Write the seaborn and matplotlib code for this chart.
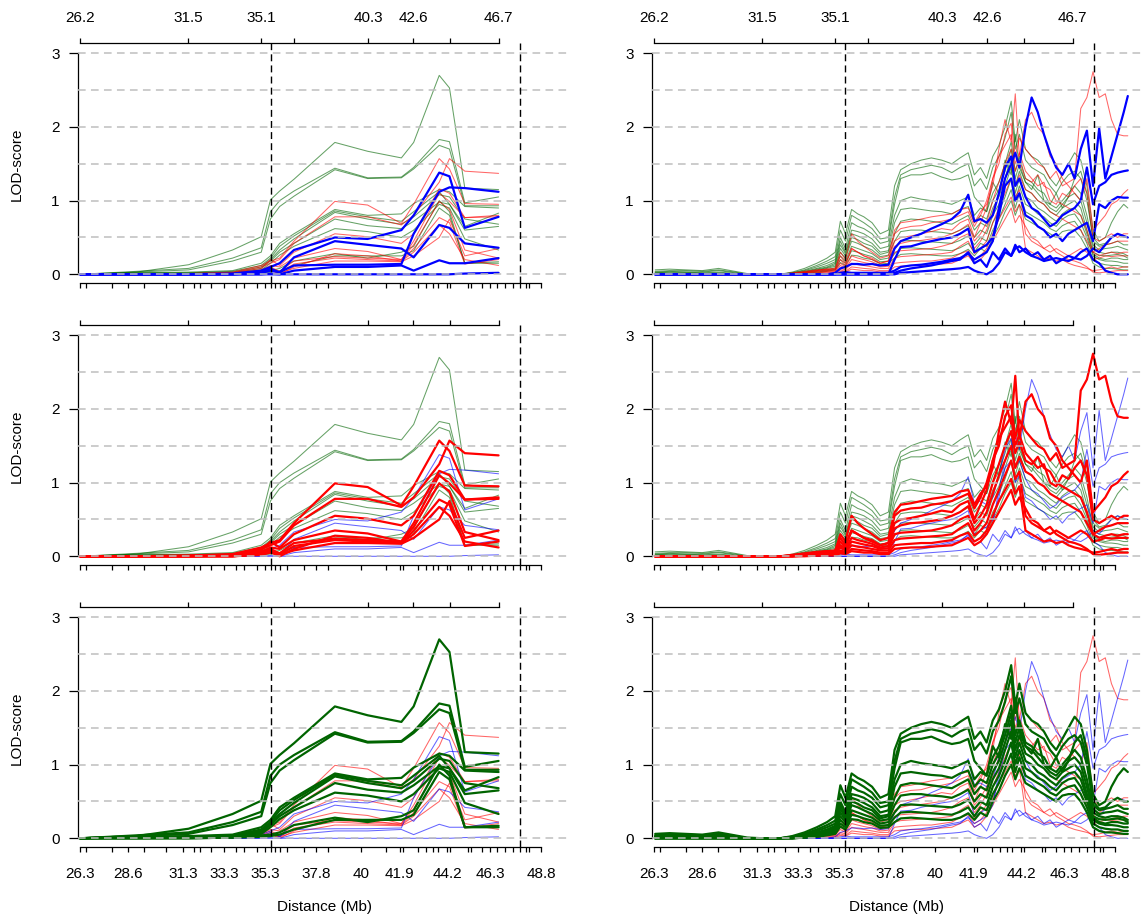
import matplotlib
matplotlib.use("Agg")
import matplotlib.pyplot as plt
import seaborn as sns
import pandas as pd

# ---- low density marker map (left column), positions in Mb ----
low_mb = [26.25, 29.0, 31.55, 33.7, 35.1, 35.55, 36.0, 36.7, 38.7, 40.3,
          41.95, 42.55, 43.8, 44.3, 45.05, 46.7]

low_blue = [
    [0, 0, 0, 0.01, 0.05, 0.10, 0.15, 0.33, 0.50, 0.48, 0.60, 0.80, 1.38, 1.33, 0.63, 0.78],
    [0, 0, 0, 0, 0.02, 0.05, 0.03, 0.12, 0.13, 0.13, 0.14, 0.55, 1.12, 1.18, 1.17, 1.12],
    [0, 0, 0, 0, 0.02, 0.08, 0.02, 0.23, 0.45, 0.40, 0.35, 0.23, 0.67, 0.63, 0.42, 0.36],
    [0, 0, 0, 0, 0, 0.01, 0.0, 0.05, 0.10, 0.10, 0.12, 0.05, 0.19, 0.15, 0.15, 0.22],
    [0, 0, 0, 0, 0, 0, 0, 0, 0, 0, 0, 0, 0, 0, 0.01, 0.02],
]
low_red = [
    [0, 0, 0.01, 0.03, 0.12, 0.18, 0.22, 0.45, 0.99, 0.94, 0.69, 0.95, 1.57, 1.43, 0.96, 0.95],
    [0, 0, 0.01, 0.02, 0.10, 0.15, 0.20, 0.42, 0.78, 0.78, 0.67, 0.80, 1.25, 1.57, 1.40, 1.37],
    [0, 0, 0, 0.02, 0.08, 0.20, 0.12, 0.30, 0.55, 0.51, 0.42, 0.55, 1.16, 1.10, 0.77, 0.80],
    [0, 0, 0, 0.01, 0.06, 0.12, 0.10, 0.22, 0.35, 0.31, 0.20, 0.45, 1.10, 0.99, 0.77, 0.78],
    [0, 0, 0, 0.01, 0.05, 0.10, 0.04, 0.18, 0.24, 0.22, 0.20, 0.40, 0.99, 0.88, 0.33, 0.22],
    [0, 0, 0, 0, 0.04, 0.08, 0.02, 0.14, 0.22, 0.20, 0.18, 0.35, 0.77, 0.70, 0.14, 0.20],
    [0, 0, 0, 0, 0.03, 0.06, 0.0, 0.10, 0.28, 0.25, 0.18, 0.30, 0.67, 0.55, 0.20, 0.12],
    [0, 0, 0, 0, 0.02, 0.05, 0.02, 0.08, 0.18, 0.18, 0.17, 0.25, 0.50, 0.75, 0.25, 0.35],
]
low_green = [
    [0, 0.03, 0.13, 0.33, 0.51, 1.01, 1.13, 1.29, 1.79, 1.67, 1.58, 1.79, 2.70, 2.53, 1.17, 1.15],
    [0, 0.04, 0.08, 0.22, 0.36, 0.85, 1.00, 1.13, 1.44, 1.31, 1.32, 1.45, 1.83, 1.80, 0.97, 1.05],
    [0, 0.03, 0.06, 0.18, 0.30, 0.75, 0.92, 1.06, 1.42, 1.30, 1.31, 1.43, 1.75, 1.70, 0.93, 0.93],
    [0, 0.02, 0.03, 0.05, 0.15, 0.25, 0.42, 0.55, 0.88, 0.80, 0.82, 0.96, 1.15, 1.12, 0.92, 0.90],
    [0, 0.02, 0.02, 0.04, 0.12, 0.22, 0.38, 0.52, 0.86, 0.78, 0.72, 0.85, 1.12, 0.95, 0.65, 0.83],
    [0, 0.01, 0.02, 0.03, 0.10, 0.20, 0.33, 0.48, 0.84, 0.75, 0.68, 0.78, 1.08, 1.05, 0.75, 0.68],
    [0, 0.01, 0.01, 0.02, 0.08, 0.18, 0.30, 0.42, 0.75, 0.66, 0.62, 0.72, 0.98, 0.95, 0.60, 0.65],
    [0, 0.0, 0.01, 0.02, 0.06, 0.15, 0.26, 0.38, 0.62, 0.58, 0.50, 0.60, 0.95, 0.90, 0.48, 0.33],
    [0, 0, 0, 0.01, 0.04, 0.05, 0.08, 0.18, 0.28, 0.22, 0.30, 0.38, 1.00, 0.85, 0.15, 0.17],
    [0, 0, 0, 0.01, 0.02, 0.03, 0.05, 0.12, 0.25, 0.25, 0.25, 0.32, 0.90, 0.80, 0.15, 0.15],
]

# ---- high density marker map (right column) ----
high_mb = [26.3, 27.0, 27.8, 28.6, 29.4, 30.2, 30.8, 31.6, 32.4, 33.0,
           33.6, 34.2, 34.7, 35.1, 35.35, 35.6, 35.9, 36.2, 36.5, 36.9,
           37.3, 37.7, 38.0, 38.3, 38.8, 39.3, 39.8, 40.3, 40.8, 41.2,
           41.6, 41.9, 42.2, 42.5, 42.8, 43.1, 43.4, 43.7, 43.9, 44.1,
           44.4, 44.7, 45.0, 45.3, 45.6, 45.9, 46.2, 46.5, 46.8, 47.1,
           47.4, 47.7, 48.0, 48.3, 48.6, 48.9, 49.2, 49.4]

high_blue = [
    [0.00, 0.00, 0.00, 0.00, 0.00, 0.00, 0.00, 0.00, 0.00, 0.00,
     0.00, 0.00, 0.00, 0.00, 0.02, 0.03, 0.02, 0.02, 0.02, 0.02,
     0.02, 0.02, 0.05, 0.10, 0.12, 0.13, 0.15, 0.17, 0.20, 0.22,
     0.28, 0.20, 0.25, 0.30, 0.45, 0.90, 1.30, 1.50, 1.65, 1.45,
     2.00, 2.40, 2.20, 1.90, 1.65, 1.45, 1.35, 1.50, 1.30, 1.70,
     1.95, 1.20, 1.98, 1.30, 1.60, 1.90, 2.20, 2.42],
    [0.00, 0.00, 0.00, 0.00, 0.00, 0.00, 0.00, 0.00, 0.00, 0.00,
     0.00, 0.00, 0.00, 0.02, 0.08, 0.10, 0.14, 0.14, 0.13, 0.14,
     0.12, 0.13, 0.35, 0.45, 0.50, 0.55, 0.62, 0.68, 0.75, 0.85,
     1.08, 0.72, 0.75, 0.70, 0.80, 1.10, 1.45, 1.60, 1.20, 1.30,
     1.05, 0.90, 0.85, 0.75, 0.65, 0.70, 0.80, 0.85, 0.90, 1.00,
     1.45, 0.95, 1.20, 1.25, 1.35, 1.38, 1.40, 1.41],
    [0.00, 0.00, 0.00, 0.00, 0.00, 0.00, 0.00, 0.00, 0.00, 0.00,
     0.00, 0.00, 0.00, 0.00, 0.00, 0.00, 0.00, 0.00, 0.00, 0.00,
     0.00, 0.00, 0.20, 0.37, 0.38, 0.42, 0.45, 0.48, 0.50, 0.55,
     0.62, 0.30, 0.35, 0.40, 0.50, 0.80, 1.20, 1.30, 1.00, 1.10,
     0.80, 0.75, 0.65, 0.60, 0.50, 0.55, 0.45, 0.55, 0.60, 0.65,
     0.70, 0.45, 0.95, 0.90, 1.00, 1.05, 1.04, 1.04],
    [0.00, 0.00, 0.00, 0.00, 0.00, 0.00, 0.00, 0.00, 0.00, 0.00,
     0.00, 0.00, 0.00, 0.00, 0.00, 0.00, 0.00, 0.00, 0.00, 0.00,
     0.00, 0.00, 0.02, 0.05, 0.08, 0.10, 0.12, 0.15, 0.18, 0.20,
     0.30, 0.15, 0.20, 0.10, 0.30, 0.20, 0.35, 0.25, 0.40, 0.30,
     0.35, 0.25, 0.30, 0.20, 0.25, 0.15, 0.20, 0.18, 0.22, 0.20,
     0.25, 0.35, 0.30, 0.40, 0.50, 0.55, 0.52, 0.50],
    [0.00, 0.00, 0.00, 0.00, 0.00, 0.00, 0.00, 0.00, 0.00, 0.00,
     0.00, 0.00, 0.00, 0.00, 0.00, 0.00, 0.00, 0.00, 0.00, 0.00,
     0.00, 0.00, 0.00, 0.02, 0.03, 0.04, 0.05, 0.06, 0.07, 0.08,
     0.10, 0.05, 0.02, 0.00, 0.05, 0.15, 0.30, 0.25, 0.35, 0.38,
     0.30, 0.25, 0.22, 0.18, 0.20, 0.22, 0.20, 0.25, 0.22, 0.30,
     0.35, 0.20, 0.15, 0.05, 0.02, 0.00, 0.00, 0.00],
]
high_red = [
    [0.00, 0.00, 0.00, 0.00, 0.00, 0.00, 0.00, 0.00, 0.00, 0.01,
     0.03, 0.05, 0.07, 0.08, 0.25, 0.15, 0.35, 0.30, 0.25, 0.22,
     0.15, 0.18, 0.55, 0.62, 0.65, 0.66, 0.70, 0.72, 0.75, 0.80,
     0.85, 0.65, 0.80, 1.00, 1.30, 1.50, 1.90, 2.05, 1.60, 1.85,
     1.70, 1.60, 1.50, 1.45, 1.30, 1.40, 1.20, 1.25, 1.30, 2.25,
     2.40, 2.75, 2.40, 2.45, 2.10, 1.90, 1.88, 1.88],
    [0.00, 0.00, 0.00, 0.00, 0.00, 0.00, 0.00, 0.00, 0.00, 0.02,
     0.04, 0.06, 0.07, 0.07, 0.30, 0.20, 0.55, 0.45, 0.38, 0.30,
     0.22, 0.25, 0.60, 0.70, 0.72, 0.75, 0.78, 0.80, 0.82, 0.88,
     0.90, 0.70, 0.85, 0.95, 1.20, 1.70, 2.10, 1.80, 2.45, 1.60,
     2.10, 2.20, 2.00, 1.90, 1.60, 1.50, 1.30, 1.20, 1.10, 1.00,
     1.30, 0.60, 0.70, 0.80, 0.95, 1.00, 1.10, 1.15],
    [0.00, 0.00, 0.00, 0.00, 0.00, 0.00, 0.00, 0.00, 0.00, 0.01,
     0.03, 0.05, 0.06, 0.06, 0.20, 0.12, 0.35, 0.30, 0.25, 0.20,
     0.15, 0.18, 0.45, 0.50, 0.52, 0.55, 0.58, 0.62, 0.60, 0.70,
     0.75, 0.50, 0.70, 0.90, 1.30, 1.60, 1.75, 1.90, 1.50, 1.65,
     1.40, 1.30, 1.20, 1.25, 1.00, 0.95, 1.10, 1.05, 1.20, 1.30,
     1.10, 0.50, 0.45, 0.50, 0.55, 0.50, 0.55, 0.55],
    [0.00, 0.00, 0.00, 0.00, 0.00, 0.00, 0.00, 0.00, 0.00, 0.01,
     0.02, 0.04, 0.05, 0.05, 0.15, 0.10, 0.25, 0.22, 0.20, 0.17,
     0.12, 0.14, 0.38, 0.42, 0.45, 0.46, 0.48, 0.50, 0.55, 0.60,
     0.68, 0.45, 0.55, 0.70, 1.00, 1.25, 1.50, 1.70, 1.40, 1.55,
     1.30, 1.25, 1.35, 1.20, 1.15, 1.00, 0.95, 0.90, 0.85, 0.80,
     0.60, 0.30, 0.35, 0.40, 0.42, 0.45, 0.45, 0.45],
    [0.00, 0.00, 0.00, 0.00, 0.00, 0.00, 0.00, 0.00, 0.00, 0.00,
     0.02, 0.03, 0.04, 0.04, 0.12, 0.08, 0.20, 0.18, 0.16, 0.14,
     0.10, 0.11, 0.30, 0.32, 0.33, 0.34, 0.35, 0.38, 0.42, 0.50,
     0.55, 0.35, 0.45, 0.60, 0.85, 1.10, 1.30, 1.50, 1.20, 1.35,
     1.15, 1.10, 1.00, 0.95, 0.85, 0.80, 0.75, 0.70, 0.65, 0.60,
     0.45, 0.30, 0.25, 0.28, 0.30, 0.28, 0.30, 0.30],
    [0.00, 0.00, 0.00, 0.00, 0.00, 0.00, 0.00, 0.00, 0.00, 0.00,
     0.01, 0.02, 0.03, 0.03, 0.08, 0.06, 0.15, 0.13, 0.12, 0.10,
     0.08, 0.08, 0.22, 0.24, 0.25, 0.26, 0.27, 0.28, 0.30, 0.38,
     0.45, 0.28, 0.35, 0.45, 0.70, 0.90, 1.10, 1.30, 1.05, 1.15,
     0.55, 0.45, 0.40, 0.35, 0.30, 0.35, 0.30, 0.25, 0.30, 0.35,
     0.30, 0.20, 0.22, 0.25, 0.24, 0.25, 0.25, 0.25],
    [0.00, 0.00, 0.00, 0.00, 0.00, 0.00, 0.00, 0.00, 0.00, 0.00,
     0.01, 0.01, 0.02, 0.02, 0.06, 0.04, 0.10, 0.09, 0.08, 0.07,
     0.05, 0.05, 0.15, 0.16, 0.17, 0.18, 0.18, 0.20, 0.22, 0.28,
     0.32, 0.20, 0.25, 0.35, 0.55, 0.75, 0.90, 1.05, 0.85, 0.95,
     0.35, 0.30, 0.25, 0.20, 0.22, 0.18, 0.20, 0.15, 0.12, 0.10,
     0.08, 0.05, 0.06, 0.08, 0.10, 0.08, 0.10, 0.10],
    [0.00, 0.00, 0.00, 0.00, 0.00, 0.00, 0.00, 0.00, 0.00, 0.00,
     0.00, 0.01, 0.01, 0.01, 0.04, 0.03, 0.07, 0.06, 0.05, 0.05,
     0.03, 0.03, 0.10, 0.11, 0.12, 0.12, 0.13, 0.14, 0.15, 0.20,
     0.25, 0.15, 0.20, 0.30, 0.45, 0.60, 0.75, 0.90, 0.70, 0.80,
     0.65, 0.50, 0.45, 0.35, 0.40, 0.30, 0.25, 0.20, 0.18, 0.15,
     0.10, 0.03, 0.02, 0.03, 0.04, 0.05, 0.05, 0.05],
]
high_green = [
    [0.06, 0.07, 0.06, 0.05, 0.08, 0.04, 0.01, 0.00, 0.00, 0.03,
     0.08, 0.15, 0.22, 0.30, 0.72, 0.55, 0.88, 0.82, 0.78, 0.70,
     0.55, 0.60, 1.20, 1.42, 1.50, 1.55, 1.58, 1.55, 1.50, 1.58,
     1.65, 1.35, 1.45, 1.30, 1.60, 1.75, 2.00, 2.35, 1.80, 2.10,
     1.70, 1.60, 1.55, 1.45, 1.30, 1.20, 1.35, 1.50, 1.65, 1.55,
     1.20, 0.60, 0.45, 0.50, 0.70, 0.85, 0.95, 0.90],
    [0.04, 0.05, 0.05, 0.04, 0.06, 0.03, 0.00, 0.00, 0.00, 0.02,
     0.06, 0.12, 0.18, 0.24, 0.60, 0.45, 0.80, 0.75, 0.70, 0.62,
     0.48, 0.50, 1.05, 1.35, 1.42, 1.45, 1.48, 1.45, 1.38, 1.45,
     1.50, 1.20, 1.30, 1.15, 1.45, 1.60, 1.85, 2.20, 1.70, 1.90,
     1.55, 1.45, 1.40, 1.35, 1.20, 1.10, 1.25, 1.35, 1.40, 1.30,
     1.00, 0.50, 0.40, 0.42, 0.50, 0.55, 0.50, 0.50],
    [0.02, 0.03, 0.03, 0.02, 0.03, 0.01, 0.00, 0.00, 0.00, 0.02,
     0.05, 0.10, 0.15, 0.20, 0.50, 0.35, 0.70, 0.65, 0.62, 0.55,
     0.42, 0.45, 0.95, 1.30, 1.35, 1.35, 1.38, 1.32, 1.28, 1.30,
     1.35, 1.05, 0.95, 0.85, 1.25, 1.10, 1.55, 1.35, 1.90, 1.45,
     1.25, 1.15, 1.35, 1.00, 0.95, 1.10, 0.90, 1.05, 1.30, 1.40,
     1.10, 0.45, 0.38, 0.40, 0.42, 0.45, 0.40, 0.40],
    [0.03, 0.04, 0.03, 0.03, 0.05, 0.02, 0.00, 0.00, 0.00, 0.01,
     0.04, 0.08, 0.12, 0.17, 0.45, 0.30, 0.60, 0.58, 0.55, 0.48,
     0.35, 0.38, 0.80, 1.00, 1.05, 1.02, 1.00, 0.98, 0.95, 1.00,
     1.05, 0.80, 0.90, 0.85, 1.10, 1.25, 1.50, 1.80, 1.40, 1.60,
     1.30, 1.25, 1.15, 1.10, 0.95, 0.90, 1.00, 1.10, 1.20, 1.10,
     0.80, 0.40, 0.33, 0.35, 0.36, 0.38, 0.35, 0.33],
    [0.02, 0.02, 0.02, 0.01, 0.02, 0.00, 0.00, 0.00, 0.00, 0.01,
     0.03, 0.07, 0.10, 0.15, 0.40, 0.28, 0.55, 0.52, 0.48, 0.42,
     0.30, 0.32, 0.70, 0.88, 0.90, 0.88, 0.86, 0.85, 0.82, 0.88,
     0.92, 0.70, 0.80, 0.75, 1.00, 1.15, 1.40, 1.70, 1.30, 1.50,
     1.25, 1.20, 1.10, 1.00, 0.90, 0.85, 0.95, 1.05, 1.10, 1.00,
     0.70, 0.35, 0.30, 0.28, 0.30, 0.30, 0.28, 0.25],
    [0.00, 0.01, 0.01, 0.01, 0.01, 0.00, 0.00, 0.00, 0.00, 0.01,
     0.03, 0.06, 0.09, 0.13, 0.35, 0.25, 0.50, 0.47, 0.42, 0.38,
     0.27, 0.30, 0.55, 0.72, 0.75, 0.74, 0.72, 0.70, 0.68, 0.74,
     0.80, 0.60, 0.70, 0.65, 0.90, 1.05, 1.30, 1.60, 1.20, 1.40,
     1.15, 1.10, 1.00, 0.95, 0.85, 0.80, 0.90, 0.95, 1.00, 0.90,
     0.60, 0.30, 0.26, 0.25, 0.26, 0.27, 0.25, 0.22],
    [0.00, 0.00, 0.00, 0.00, 0.00, 0.00, 0.00, 0.00, 0.00, 0.00,
     0.02, 0.05, 0.08, 0.11, 0.30, 0.22, 0.45, 0.42, 0.38, 0.33,
     0.24, 0.26, 0.45, 0.58, 0.60, 0.60, 0.58, 0.57, 0.55, 0.60,
     0.66, 0.50, 0.60, 0.55, 0.80, 0.95, 1.20, 1.45, 1.10, 1.30,
     1.05, 1.00, 0.90, 0.85, 0.78, 0.72, 0.82, 0.88, 0.90, 0.80,
     0.55, 0.28, 0.22, 0.20, 0.22, 0.22, 0.20, 0.20],
    [0.00, 0.00, 0.00, 0.00, 0.00, 0.00, 0.00, 0.00, 0.00, 0.00,
     0.02, 0.04, 0.06, 0.09, 0.25, 0.18, 0.38, 0.35, 0.32, 0.28,
     0.20, 0.22, 0.35, 0.45, 0.46, 0.45, 0.44, 0.43, 0.42, 0.46,
     0.52, 0.40, 0.50, 0.45, 0.70, 0.85, 1.05, 1.30, 1.00, 1.20,
     0.95, 0.90, 0.82, 0.78, 0.70, 0.65, 0.75, 0.80, 0.82, 0.70,
     0.50, 0.25, 0.20, 0.18, 0.18, 0.17, 0.15, 0.15],
    [0.00, 0.00, 0.00, 0.00, 0.00, 0.00, 0.00, 0.00, 0.00, 0.00,
     0.01, 0.03, 0.05, 0.07, 0.20, 0.15, 0.32, 0.30, 0.27, 0.24,
     0.17, 0.18, 0.28, 0.35, 0.36, 0.35, 0.34, 0.33, 0.32, 0.36,
     0.42, 0.30, 0.42, 0.38, 0.60, 0.75, 0.95, 1.15, 0.90, 1.10,
     0.85, 0.80, 0.75, 0.70, 0.62, 0.58, 0.66, 0.70, 0.72, 0.60,
     0.42, 0.20, 0.15, 0.13, 0.12, 0.12, 0.10, 0.10],
    [0.00, 0.00, 0.00, 0.00, 0.00, 0.00, 0.00, 0.00, 0.00, 0.00,
     0.01, 0.02, 0.04, 0.06, 0.16, 0.12, 0.26, 0.25, 0.22, 0.20,
     0.14, 0.15, 0.22, 0.27, 0.28, 0.27, 0.26, 0.25, 0.25, 0.28,
     0.34, 0.25, 0.35, 0.30, 0.50, 0.65, 0.85, 1.00, 0.80, 0.95,
     0.75, 0.70, 0.65, 0.60, 0.55, 0.50, 0.58, 0.60, 0.60, 0.50,
     0.35, 0.15, 0.10, 0.08, 0.08, 0.07, 0.06, 0.06],
]

# ---- axes furniture ----
top_tick_pos = [26.25, 31.53, 35.1, 36.71, 40.33, 42.53, 44.31, 46.71]
top_tick_lab = ["26.2", "31.5", "35.1", "", "40.3", "42.6", "", "46.7"]
bottom_tick_pos = [26.26, 26.52, 27.8, 28.59, 29.35, 30.46, 31.3, 31.8, 32.09, 32.66,
                   33.3, 33.88, 34.25, 34.89, 35.3, 35.57, 35.75, 36.0, 36.34, 37.2,
                   37.8, 38.37, 40.0, 41.22, 41.87, 42.03, 42.76, 43.17, 43.5, 43.74,
                   44.2, 44.34, 45.2, 45.37, 45.9, 46.3, 46.64, 47.0, 47.4, 47.73,
                   48.05, 48.2, 48.78]
bottom_labelled = {26.26: "26.3", 28.59: "28.6", 31.3: "31.3", 33.3: "33.3", 35.3: "35.3",
                   37.8: "37.8", 40.0: "40", 41.87: "41.9", 44.2: "44.2", 46.3: "46.3",
                   48.78: "48.8"}
region_bounds = [35.56, 47.73]
lod_ticks = [0, 1, 2, 3]
grid_levels = [0, 0.5, 1, 1.5, 2, 2.5, 3]
highlight = ["blue", "red", "green"]
palette = {"blue": "#0000ff", "red": "#ff0000", "green": "#006400"}


def long_table(xs, blue, red, green):
    rows = []
    for name, group in (("green", green), ("red", red), ("blue", blue)):
        for k, ys in enumerate(group):
            for x, y in zip(xs, ys):
                rows.append({"colour": name, "line": f"{name}{k}", "Mb": x, "LOD": y})
    return pd.DataFrame(rows)


low = long_table(low_mb, low_blue, low_red, low_green)
high = long_table(high_mb, high_blue, high_red, high_green)

sns.set_style("ticks")
plt.rcParams["font.family"] = ["Liberation Sans", "DejaVu Sans"]
plt.rcParams["font.size"] = 11
for key in ("text.color", "axes.labelcolor", "xtick.color", "ytick.color", "axes.edgecolor"):
    plt.rcParams[key] = "black"

W, H = 1142, 917
PT = 0.72                  # points per pixel at 100 dpi
lod_px = 73.67             # pixels per LOD unit
mb_px = 20.46              # pixels per Mb
pad = 0.03                 # small y margin so lines at 0 are not clipped
col_x0 = [77.5, 651.5]
col_x1 = [571, 1142]
x_lo = 26.12

fig = plt.figure(figsize=(W / 100, H / 100), dpi=100)

for r, focus in enumerate(highlight):
    zero_px = 274.3 + 282 * r
    for c, data in enumerate([low, high]):
        wpx = col_x1[c] - col_x0[c]
        hpx = (3 + 2 * pad) * lod_px
        bottom_px = zero_px + pad * lod_px
        ax = fig.add_axes([col_x0[c] / W, (H - bottom_px) / H, wpx / W, hpx / H])

        sns.lineplot(data=data[data.colour != focus], x="Mb", y="LOD", hue="colour",
                     units="line", estimator=None, palette=palette, linewidth=0.75,
                     alpha=0.6, legend=False, sort=False, ax=ax, zorder=2)
        sns.lineplot(data=data[data.colour == focus], x="Mb", y="LOD", hue="colour",
                     units="line", estimator=None, palette=palette, linewidth=1.6,
                     legend=False, sort=False, ax=ax, zorder=2.5)

        for g in grid_levels:
            ax.axhline(g, color="#bebebe", lw=1.1, ls=(0, (5, 3.5)), zorder=3)

        ax.set_xlim(x_lo, x_lo + wpx / mb_px)
        ax.set_ylim(-pad, 3 + pad)

        for xv in region_bounds:
            ax.axvline(xv, ymin=-(9 - pad * lod_px) / hpx, ymax=1 + (10 - pad * lod_px) / hpx,
                       color="black", lw=1.0, ls=(0, (5, 3)), clip_on=False, zorder=4)

        ax.spines["right"].set_visible(False)
        ax.spines["top"].set_visible(False)
        ax.spines["left"].set_bounds(0, 3)
        ax.spines["bottom"].set_position(("outward", (9 - pad * lod_px) * PT))
        ax.spines["bottom"].set_bounds(bottom_tick_pos[0], bottom_tick_pos[-1])
        for s in ("left", "bottom"):
            ax.spines[s].set_linewidth(0.9)

        ax.set_yticks(lod_ticks)
        ax.set_yticklabels([str(t) for t in lod_ticks])
        ax.tick_params(axis="y", length=9 * PT, width=0.9, pad=6.5)
        ax.set_xticks(bottom_tick_pos)
        ax.set_xticklabels([bottom_labelled.get(t, "") for t in bottom_tick_pos])
        ax.tick_params(axis="x", length=5 * PT, width=0.9, pad=10.5, labelbottom=(r == 2))

        if c == 0:
            ax.set_ylabel("LOD-score")
            ax.yaxis.set_label_coords((24 - col_x0[c]) / wpx, 0.5)
        else:
            ax.set_ylabel("")
        if r == 2:
            ax.set_xlabel("Distance (Mb)")
            ax.xaxis.set_label_coords(0.5, -(900 - bottom_px) / hpx)
        else:
            ax.set_xlabel("")

        top = ax.twiny()
        top.set_xlim(ax.get_xlim())
        for s in ("left", "right", "bottom"):
            top.spines[s].set_visible(False)
        top.spines["top"].set_position(("outward", (10 - pad * lod_px) * PT))
        top.spines["top"].set_bounds(top_tick_pos[0], top_tick_pos[-1])
        top.spines["top"].set_linewidth(0.9)
        top.set_xticks(top_tick_pos)
        top.set_xticklabels(top_tick_lab)
        top.tick_params(axis="x", length=5 * PT, width=0.9, pad=9.5, labeltop=(r == 0))

fig.savefig("out.png", dpi=100)
